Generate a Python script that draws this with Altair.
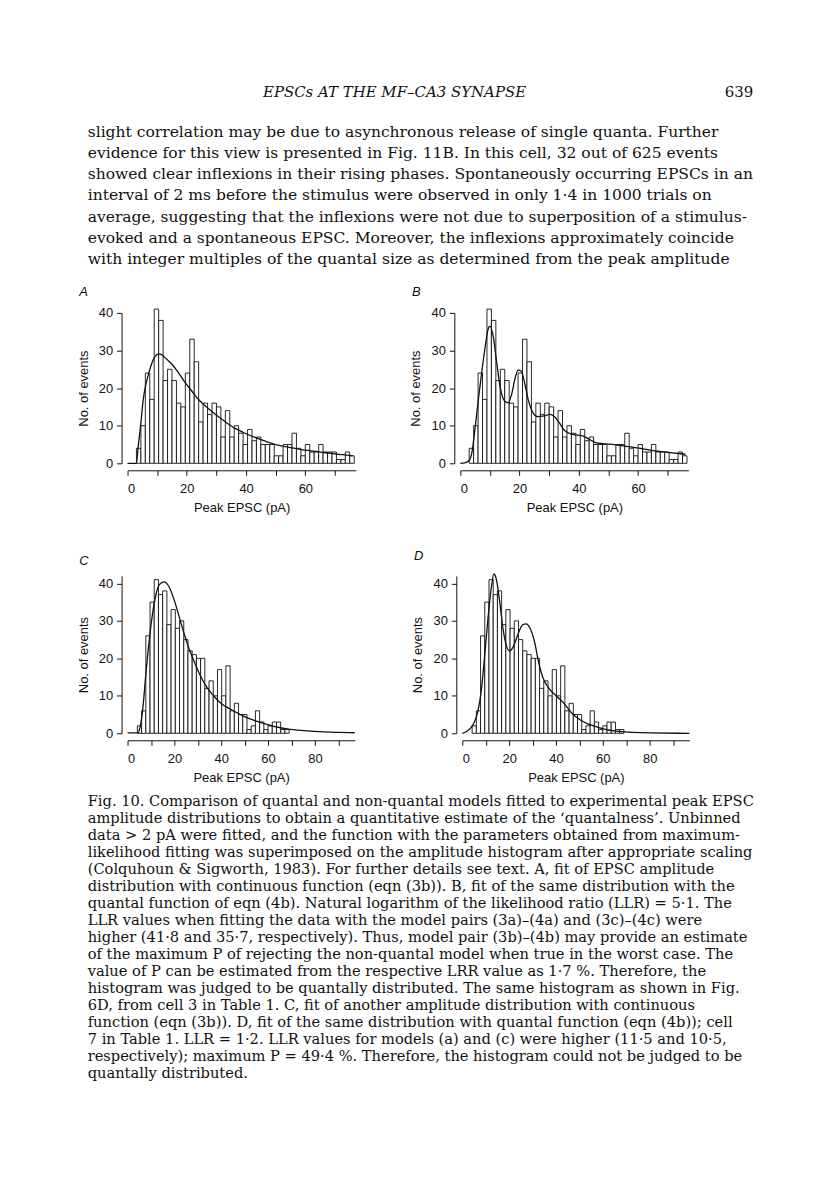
import altair as alt
import pandas as pd

HEADER = "EPSCs AT THE MF–CA3 SYNAPSE"
PAGE_NO = "639"
PARAGRAPH = [
    "slight correlation may be due to asynchronous release of single quanta. Further",
    "evidence for this view is presented in Fig. 11B. In this cell, 32 out of 625 events",
    "showed clear inflexions in their rising phases. Spontaneously occurring EPSCs in an",
    "interval of 2 ms before the stimulus were observed in only 1·4 in 1000 trials on",
    "average, suggesting that the inflexions were not due to superposition of a stimulus-",
    "evoked and a spontaneous EPSC. Moreover, the inflexions approximately coincide",
    "with integer multiples of the quantal size as determined from the peak amplitude",
]
CAPTION = [
    "Fig. 10. Comparison of quantal and non-quantal models fitted to experimental peak EPSC",
    "amplitude distributions to obtain a quantitative estimate of the ‘quantalness’. Unbinned",
    "data > 2 pA were fitted, and the function with the parameters obtained from maximum-",
    "likelihood fitting was superimposed on the amplitude histogram after appropriate scaling",
    "(Colquhoun & Sigworth, 1983). For further details see text. A, fit of EPSC amplitude",
    "distribution with continuous function (eqn (3b)). B, fit of the same distribution with the",
    "quantal function of eqn (4b). Natural logarithm of the likelihood ratio (LLR) = 5·1. The",
    "LLR values when fitting the data with the model pairs (3a)–(4a) and (3c)–(4c) were",
    "higher (41·8 and 35·7, respectively). Thus, model pair (3b)–(4b) may provide an estimate",
    "of the maximum P of rejecting the non-quantal model when true in the worst case. The",
    "value of P can be estimated from the respective LRR value as 1·7 %. Therefore, the",
    "histogram was judged to be quantally distributed. The same histogram as shown in Fig.",
    "6D, from cell 3 in Table 1. C, fit of another amplitude distribution with continuous",
    "function (eqn (3b)). D, fit of the same distribution with quantal function (eqn (4b)); cell",
    "7 in Table 1. LLR = 1·2. LLR values for models (a) and (c) were higher (11·5 and 10·5,",
    "respectively); maximum P = 49·4 %. Therefore, the histogram could not be judged to be",
    "quantally distributed.",
]

# Histogram of panels A and B (same data)
AB_BIN_START = 3.0
AB_BIN_WIDTH = 1.5
AB_COUNTS = [4, 10, 24, 17, 41, 38, 22, 25, 22, 16, 15, 24, 33, 27, 11, 16, 13, 16, 15, 7,
             14, 7, 10, 8, 5, 9, 6, 7, 5, 5, 5, 2, 2, 5, 5, 8, 4, 2, 5, 3,
             3, 5, 3, 3, 3, 1, 1, 3, 2]
# Histogram of panels C and D (same data)
CD_BIN_START = 4.2
CD_BIN_WIDTH = 1.8
CD_COUNTS = [2, 6, 26, 35, 41, 37, 38, 29, 33, 28, 30, 25, 22, 21, 20, 20, 12, 14, 10, 17,
             10, 18, 6, 8, 5, 5, 1, 2, 6, 3, 1, 2, 3, 3, 1, 1]

# Fitted curves
A_FIT_X = [0, 3.0, 3.6, 4.4, 5.3, 6.2, 7.0, 8.1, 9.2, 10.4, 11.5, 12.6, 14.9, 17.1, 19.4, 21.6,
           23.8, 26.2, 29.5, 32.9, 36.3, 39.1, 45, 50, 55, 60, 65, 70, 76]
A_FIT_Y = [0, 0, 4.5, 10, 17, 21, 23.5, 26.4, 28.3, 29.1, 28.9, 28.1, 26.4, 24.2, 21.5, 19.3,
           17.1, 15.3, 13.1, 11.1, 9.3, 8.2, 6.3, 5.0, 4.2, 3.5, 3.0, 2.5, 2.0]
B_FIT_X = [0, 1.5, 2.8, 3.9, 5.0, 6.1, 7.2, 8.4, 9.5, 10.0, 11.1, 12.3, 13.4, 15.0, 16.2, 17.3,
           18.4, 19.5, 20.6, 21.7, 22.9, 24.5, 26.2, 28.4, 30.1, 31.8, 33.4, 35.1, 37.9, 41.2,
           43.5, 45.7, 52.4, 59, 65.8, 70, 76]
B_FIT_Y = [0, 0.1, 0.6, 2.8, 9.5, 17, 24, 31, 36, 36.5, 33.8, 26.7, 20.5, 16.5, 16.1, 18.3,
           22.3, 24.8, 24.5, 21.4, 17, 13.5, 12.4, 12.6, 13, 12.4, 10.8, 8.8, 7.7, 7.3,
           6.4, 5.5, 4.9, 4.2, 3.3, 2.9, 2.4]
C_FIT_X = [0, 4.5, 5.0, 6.4, 7.8, 9.2, 10.6, 12.1, 13.5, 15.6, 17.7, 19.9, 22.0, 24.1, 26.2,
           28.4, 31.2, 34.0, 36.9, 39.7, 44.0, 48.2, 52, 57.4, 63, 68.8, 80, 90, 97]
C_FIT_Y = [0.1, 0.1, 0.8, 5.9, 15.7, 24.5, 31.6, 36.9, 39.6, 40.4, 39.1, 35.6, 31.2, 26.7, 22.7,
           19.2, 15.2, 12.1, 9.9, 8.1, 6.4, 5.0, 3.9, 2.8, 1.8, 1.1, 0.5, 0.25, 0.15]
D_FIT_X = [0, 1.7, 3.8, 5.3, 6.7, 8.1, 9.5, 11.0, 12.4, 13.5, 14.5, 15.9, 17.3, 18.8, 20.2,
           22.0, 23.8, 25.9, 27.3, 28.7, 30.9, 32.6, 34.4, 36.6, 40.1, 43.7, 47, 50.8, 57.9,
           66.4, 80, 97]
D_FIT_Y = [0, 0.4, 1.6, 3.2, 6.0, 11.4, 20.3, 30.9, 38.9, 42.5, 41.2, 35.4, 28.3, 23.4, 22.0,
           23.4, 26.5, 29.0, 29.2, 28.3, 24.3, 18.9, 14.9, 12.3, 10.0, 7.8, 5.2, 3.4, 1.6,
           0.5, 0.1, 0.0]

SANS = "Liberation Sans"
INK = "#111111"


def bins_df(start, width, counts):
    lo = [start + i * width for i in range(len(counts))]
    return pd.DataFrame({"lo": lo, "hi": [v + width for v in lo], "n": counts,
                         "base": [0] * len(counts)})


def panel(letter, bins, fx, fy, xmax, ymax, w, h):
    xs = alt.Scale(domain=[0, xmax], nice=False, zero=False)
    ys = alt.Scale(domain=[0, ymax], nice=False)
    xaxis = alt.Axis(values=list(range(0, int(xmax) + 1, 10)),
                     labelExpr="datum.value % 20 === 0 ? datum.label : ''",
                     title="Peak EPSC (pA)", offset=7, tickSize=5, labelPadding=7,
                     titlePadding=6, grid=False)
    yaxis = alt.Axis(values=[0, 10, 20, 30, 40], title="No. of events", offset=6,
                     tickSize=5, labelPadding=4, titlePadding=8, grid=False)
    bars = alt.Chart(bins).mark_rect(fill="white", stroke=INK, strokeWidth=0.9).encode(
        x=alt.X("lo:Q", scale=xs, axis=xaxis), x2="hi:Q",
        y=alt.Y("n:Q", scale=ys, axis=yaxis), y2="base:Q")
    fit = alt.Chart(pd.DataFrame({"lo": fx, "n": fy})).mark_line(
        color=INK, strokeWidth=1.3, interpolate="monotone").encode(
        x=alt.X("lo:Q", scale=xs, axis=xaxis), y=alt.Y("n:Q", scale=ys, axis=yaxis))
    return alt.layer(bars, fit).properties(
        width=w, height=h,
        title=alt.TitleParams(letter, anchor="start", frame="bounds", font=SANS,
                              fontStyle="italic", fontSize=13, fontWeight="normal",
                              color=INK, offset=8, dx=2))


def spacer(w):
    return alt.Chart(pd.DataFrame({"v": [0]})).mark_point(opacity=0).encode(
        x=alt.value(0), y=alt.value(0)).properties(width=w, height=10)


ab = bins_df(AB_BIN_START, AB_BIN_WIDTH, AB_COUNTS)
cd = bins_df(CD_BIN_START, CD_BIN_WIDTH, CD_COUNTS)

pA = panel("A", ab, A_FIT_X, A_FIT_Y, 77, 40, 229, 151)
pB = panel("B", ab, B_FIT_X, B_FIT_Y, 77, 40, 229, 151)
pC = panel("C", cd, C_FIT_X, C_FIT_Y, 97, 42, 228, 158)
pD = panel("D", cd, D_FIT_X, D_FIT_Y, 97, 42, 228, 158)

row1 = alt.hconcat(spacer(12), pA, pB, spacing=54)
row2 = alt.hconcat(spacer(12), pC, pD, spacing=54)
panels = alt.vconcat(row1, row2, spacing=36)

# text block at top of page
hdr = alt.Chart(pd.DataFrame({"t": [HEADER]})).mark_text(
    align="center", baseline="middle", font="DejaVu Serif", fontStyle="italic",
    fontSize=15, color=INK).encode(x=alt.value(385), y=alt.value(82), text="t:N")
pno = alt.Chart(pd.DataFrame({"t": [PAGE_NO]})).mark_text(
    align="right", baseline="middle", font="DejaVu Serif", fontSize=15,
    color=INK).encode(x=alt.value(745), y=alt.value(82), text="t:N")
para = alt.Chart(pd.DataFrame({"i": list(range(len(PARAGRAPH))), "t": PARAGRAPH})).mark_text(
    align="left", baseline="middle", font="DejaVu Serif", fontSize=15.6, color=INK).encode(
    x=alt.value(77),
    y=alt.Y("i:Q", scale=alt.Scale(domain=[0, len(PARAGRAPH) - 1], range=[122, 250]), axis=None),
    text="t:N")
top_text = alt.layer(hdr, pno, para).properties(width=800, height=277)

cap = alt.Chart(pd.DataFrame({"i": list(range(len(CAPTION))), "t": CAPTION})).mark_text(
    align="left", baseline="middle", font="DejaVu Serif", fontSize=14.7,
    color=INK).encode(
    x=alt.value(77),
    y=alt.Y("i:Q", scale=alt.Scale(domain=[0, len(CAPTION) - 1], range=[18, 291]), axis=None),
    text="t:N")
caption = cap.properties(width=800, height=300)

page = alt.vconcat(top_text, panels, caption, spacing=0).properties(
    padding={"left": 0, "top": 0, "right": 0, "bottom": 0}
).configure_view(stroke=None).configure_axis(
    labelFont=SANS, labelFontSize=13, labelColor=INK, titleFont=SANS, titleFontSize=13,
    titleFontWeight="normal", titleColor=INK, domainColor=INK, tickColor=INK,
    domainWidth=1, tickWidth=1
)

page.save("out.html", embed_options={"renderer": "svg", "actions": False})
